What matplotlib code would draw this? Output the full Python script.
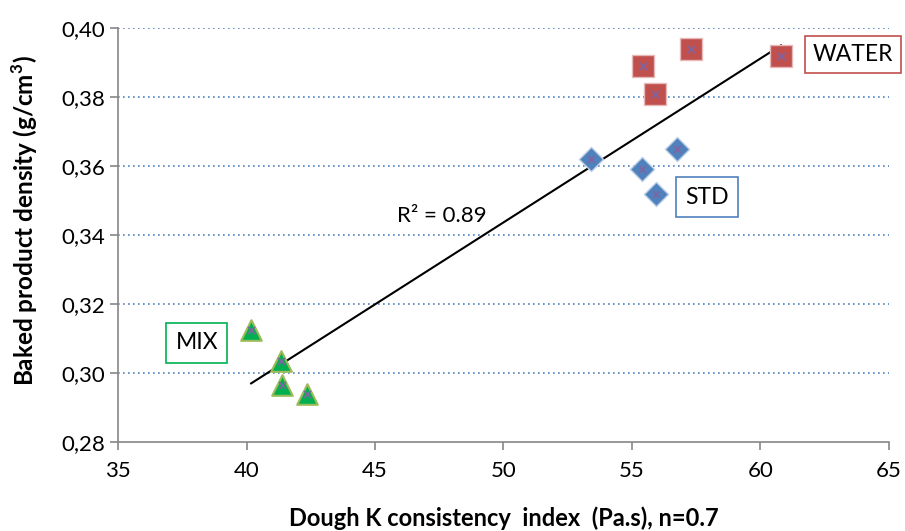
import matplotlib
matplotlib.use("Agg")
import matplotlib.pyplot as plt
import numpy as np

plt.rcParams['font.family'] = ['Lato', 'DejaVu Sans']

water_x = [55.43, 57.30, 55.89, 60.80]
water_y = [0.389, 0.394, 0.381, 0.392]
std_x = [53.40, 55.39, 55.93, 56.75]
std_y = [0.362, 0.359, 0.352, 0.365]
mix_x = [40.18, 41.34, 41.38, 42.35]
mix_y = [0.3125, 0.3035, 0.2965, 0.294]

x_ticks = [35, 40, 45, 50, 55, 60, 65]
y_ticks = [0.28, 0.30, 0.32, 0.34, 0.36, 0.38, 0.40]
y_ticklabels = ["0,28", "0,30", "0,32", "0,34", "0,36", "0,38", "0,40"]

fig = plt.figure(figsize=(9.05, 5.31), dpi=100)
ax = fig.add_axes([0.1304, 0.1676, 0.8519, 0.7797])
ax.set_xlim(35, 65)
ax.set_ylim(0.28, 0.40)

for y in y_ticks[1:]:
    ax.axhline(y, color='#4F81BD', linestyle=(0, (1, 2)), linewidth=1.2, zorder=1)

# markers
ax.scatter(water_x, water_y, marker='s', s=240, color='#C0504D', edgecolors='#E6B9B8', linewidths=1, zorder=3)
ax.scatter(std_x, std_y, marker='D', s=150, color='#4F81BD', edgecolors='#B9CDE5', linewidths=1, zorder=3)
ax.scatter(mix_x, mix_y, marker='^', s=220, color='#00B050', edgecolors='#9BBB59', linewidths=1.5, zorder=3)
allx = water_x + std_x + mix_x
ally = water_y + std_y + mix_y
ax.scatter(allx, ally, marker='x', s=25, color='#8064A2', linewidths=1.2, zorder=4)

# trendline
xa = np.array(allx); ya = np.array(ally)
m, b = np.polyfit(xa, ya, 1)
xs = np.array([xa.min(), xa.max()])
ax.plot(xs, m * xs + b, color='black', linewidth=1.5, zorder=2)
ax.text(47.6, 0.3455, "R² = 0.89", fontsize=16, ha='center', va='center', zorder=5)

# labels
ax.text(63.6, 0.3922, "WATER", fontsize=16.5, ha='center', va='center',
        bbox=dict(boxstyle='square,pad=0.35', fc='white', ec='#C0504D', lw=1.2), zorder=5)
ax.text(57.92, 0.351, "STD", fontsize=16.5, ha='center', va='center',
        bbox=dict(boxstyle='square,pad=0.4', fc='white', ec='#4F81BD', lw=1.2), zorder=5)
ax.text(38.07, 0.3087, "MIX", fontsize=16.5, ha='center', va='center',
        bbox=dict(boxstyle='square,pad=0.4', fc='white', ec='#00B050', lw=1.2), zorder=5)

ax.set_xticks(x_ticks)
ax.set_yticks(y_ticks)
ax.set_yticklabels(y_ticklabels)
ax.tick_params(axis='both', labelsize=16, color='#868686', length=6, width=1.2, direction='out')
ax.tick_params(axis='x', pad=8)
for s in ['top', 'right']:
    ax.spines[s].set_visible(False)
for s in ['left', 'bottom']:
    ax.spines[s].set_color('#868686')
    ax.spines[s].set_linewidth(1.2)

ax.set_xlabel("Dough K consistency  index  (Pa.s), n=0.7", fontsize=17, fontweight='bold', va='center')
ax.xaxis.set_label_coords(0.5, -0.183)
ax.set_ylabel("Baked product density (g/cm$^\\mathregular{3}$)", fontsize=17.5, fontweight='bold', va='center')
ax.yaxis.set_label_coords(-0.121, 0.534)

fig.savefig("out.png", dpi=100)
